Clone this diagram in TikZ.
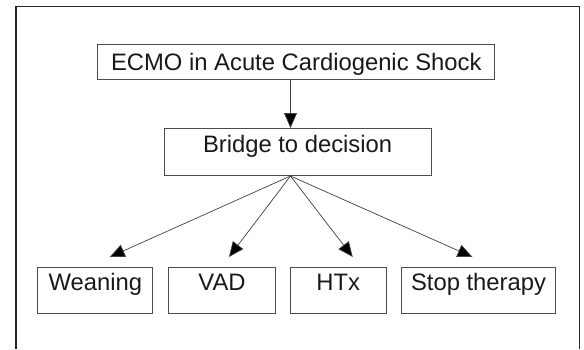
\documentclass[tikz,border=0pt]{standalone}
\usepackage{fontspec}
\setmainfont{Liberation Sans}
\usetikzlibrary{arrows.meta}
\begin{document}
\begin{tikzpicture}[x=1pt,y=-1pt,
  boxstyle/.style={draw=black!70, line width=1pt, inner sep=0pt, anchor=north west,
    font=\fontsize{23.8}{28}\selectfont, text=black!90},
  conn/.style={draw=black!75, line width=0.7pt, -{Triangle[length=15pt,width=13pt,fill=black]}}]
\useasboundingbox (0,0) rectangle (584,349);
\draw[line width=1.1pt, black!85] (16,349) -- (16,6.7) -- (579.3,6.7) -- (579.3,349);
\node[boxstyle, minimum width=397pt, text height=26pt, text depth=9pt] (top) at (97.3,44) {ECMO in Acute Cardiogenic Shock};
\node[boxstyle, minimum width=267pt, text height=24pt, text depth=23pt] (bridge) at (163.6,128) {Bridge to decision};
\node[boxstyle, minimum width=115pt, text height=23pt, text depth=23pt] (wean) at (37.3,267) {Weaning};
\node[boxstyle, minimum width=107pt, text height=23pt, text depth=23pt] (vad) at (168,267) {VAD};
\node[boxstyle, minimum width=95.6pt, text height=23pt, text depth=23pt] (htx) at (290,267) {HTx};
\node[boxstyle, minimum width=154pt, text height=23pt, text depth=23pt] (stop) at (401,267) {Stop therapy};
\coordinate (o) at (290.5,176);
\coordinate (t1) at (109.7,257);
\coordinate (t2) at (229,257);
\coordinate (t3) at (352.7,257);
\coordinate (t4) at (472.5,257);
\draw[conn] (top.south -| o) -- (bridge.north -| o);
\draw[conn] (o) -- (t1);
\draw[conn] (o) -- (t2);
\draw[conn] (o) -- (t3);
\draw[conn] (o) -- (t4);
\end{tikzpicture}
\end{document}
